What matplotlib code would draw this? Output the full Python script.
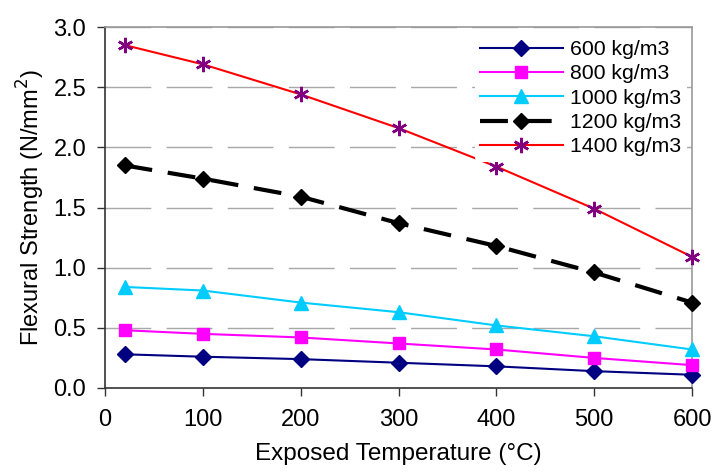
import numpy as np
import matplotlib.pyplot as plt

plt.rcParams['font.family'] = ['Liberation Sans', 'DejaVu Sans']

# exposed temperature (deg C)
temps = [20, 100, 200, 300, 400, 500, 600]

# flexural strength (N/mm2) per density
fs_600 = [0.28, 0.26, 0.24, 0.21, 0.18, 0.14, 0.11]
fs_800 = [0.48, 0.45, 0.42, 0.37, 0.32, 0.25, 0.19]
fs_1000 = [0.84, 0.81, 0.71, 0.63, 0.52, 0.43, 0.32]
fs_1200 = [1.85, 1.74, 1.59, 1.37, 1.18, 0.96, 0.71]
fs_1400 = [2.85, 2.69, 2.44, 2.16, 1.84, 1.49, 1.09]

labels = ['600 kg/m3', '800 kg/m3', '1000 kg/m3', '1200 kg/m3', '1400 kg/m3']

fig = plt.figure(figsize=(7.12, 4.75), dpi=100)
ax = fig.add_axes([105/712, 1 - 388/475, (692-105)/712, (388-27)/475])

ax.plot(temps, fs_600, color='#000080', lw=1.5, marker='D', ms=8,
        mfc='#000080', mec='#000080', label=labels[0], zorder=3, clip_on=False)
ax.plot(temps, fs_800, color='#FF00FF', lw=1.5, marker='s', ms=8.5,
        mfc='#FF00FF', mec='#FF00FF', label=labels[1], zorder=3, clip_on=False)
ax.plot(temps, fs_1000, color='#00CCFF', lw=1.5, marker='^', ms=10,
        mfc='#00CCFF', mec='#00CCFF', label=labels[2], zorder=3, clip_on=False)
ax.plot(temps, fs_1200, color='black', lw=3, ls=(0, (6.7, 3.8)), marker='D', ms=8.5,
        mfc='black', mec='black', label=labels[3], zorder=3, clip_on=False)
ax.plot(temps, fs_1400, color='#FF0000', lw=1.5, marker=(6, 2, 0), ms=11,
        mec='#800080', mew=1.8, label=labels[4], zorder=3, clip_on=False)

ax.set_xlim(0, 600)
ax.set_ylim(0, 3.0)
ax.set_xticks(np.arange(0, 601, 100))
ax.set_yticks(np.arange(0, 3.01, 0.5))
ax.set_yticklabels(['%.1f' % v for v in np.arange(0, 3.01, 0.5)])
ax.tick_params(labelsize=17, direction='out', length=5.5, width=1, color='#333333')
ax.tick_params(axis='y', pad=8)
ax.tick_params(axis='x', pad=9.5)

for y in np.arange(0.5, 3.01, 0.5):
    ax.axhline(y, color='#A8A8A8', lw=1, ls=(0, (33, 11)), zorder=1)

for s in ['top', 'right']:
    ax.spines[s].set_color('#999999')
    ax.spines[s].set_linewidth(1.2)
for s in ['left', 'bottom']:
    ax.spines[s].set_color('#333333')
    ax.spines[s].set_linewidth(1.2)

ax.set_ylabel('Flexural Strength (N/mm$^2$)', fontsize=17, labelpad=5)
ax.set_xlabel('Exposed Temperature (°C)', fontsize=17.5, labelpad=9)

leg = ax.legend(loc='upper right', bbox_to_anchor=(0.998, 0.99), frameon=True,
                fontsize=15.3, handlelength=3.9, handletextpad=0.35,
                labelspacing=0.25, borderaxespad=0.2, borderpad=0.25)
leg.get_frame().set_edgecolor('none')
leg.get_frame().set_facecolor('white')
leg.get_frame().set_alpha(1)
leg.set_zorder(5)

fig.savefig('out.png', dpi=100)
